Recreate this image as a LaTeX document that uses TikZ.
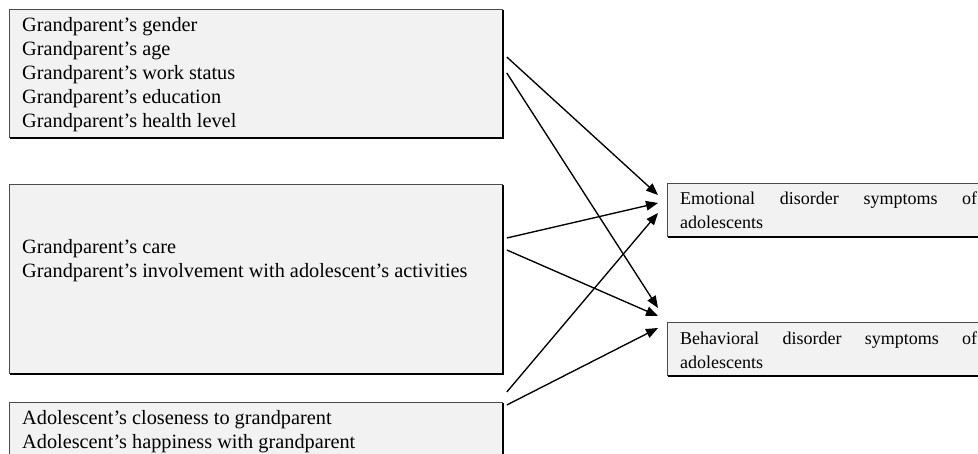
\documentclass[tikz,border=0pt]{standalone}
\usepackage{fontspec}
\setmainfont{Liberation Serif}
\usetikzlibrary{arrows.meta,calc}
\definecolor{boxfill}{HTML}{F2F2F2}
\tikzset{
  panel/.style={draw=black!70, line width=0.8pt, fill=boxfill, inner sep=0pt, anchor=north west},
  lefttext/.style={inner sep=0pt, anchor=west, align=left, font=\fontsize{20.3}{24}\selectfont},
  righttext/.style={inner sep=0pt, anchor=west, align=left, font=\fontsize{18}{24}\selectfont},
  shade/.style={line width=2.2pt, black},
  link/.style={line width=1.35pt, -{Triangle[length=12pt,width=9.5pt]}}
}
\begin{document}
\begin{tikzpicture}[x=1pt,y=-1pt]
\useasboundingbox (0,0) rectangle (978,453);
% left panels
\node[panel, minimum width=493pt, minimum height=128pt] (b1) at (9,9) {};
\node[panel, minimum width=493pt, minimum height=189pt] (b2) at (9,184) {};
\node[panel, minimum width=493pt, minimum height=70pt] (b3) at (9,402) {};
% right panels
\node[panel, minimum width=340pt, minimum height=53pt] (b4) at (667,183) {};
\node[panel, minimum width=340pt, minimum height=53pt] (b5) at (667,322) {};
% shadows
\foreach \b in {b1,b2,b3,b4,b5}{
  \draw[shade] ($(\b.south west)+(1,0)$) -- ($(\b.south east)+(0,0)$) -- ($(\b.north east)+(0,1)$);
}
% texts
\node[lefttext] (t1) at (22,75) {Grandparent’s gender\\Grandparent’s age\\Grandparent’s work status\\Grandparent’s education\\Grandparent’s health level};
\node[lefttext] (t2) at (22,261) {Grandparent’s care\\Grandparent’s involvement with adolescent’s activities};
\node[lefttext] (t3) at (22,432) {Adolescent’s closeness to grandparent\\Adolescent’s happiness with grandparent};
\node[righttext] (t4) at (680,210) {\hbox to 297pt{Emotional\hfill disorder\hfill symptoms\hfill of}\\adolescents};
\node[righttext] (t5) at (680,350) {\hbox to 297pt{Behavioral\hfill disorder\hfill symptoms\hfill of}\\adolescents};
% connectors
\draw[link] ($(b1.north east)+(4,48)$) -- ($(b4.north west)+(-9,12)$);
\draw[link] ($(b1.north east)+(4,64)$) -- ($(b5.north west)+(-9,-14)$);
\draw[link] ($(b2.north east)+(4,54)$) -- ($(b4.north west)+(-9,20)$);
\draw[link] ($(b2.north east)+(4,66)$) -- ($(b5.north west)+(-9,-6)$);
\draw[link] ($(b3.north east)+(4,-10)$) -- ($(b4.north west)+(-9,30)$);
\draw[link] ($(b3.north east)+(4,3)$) -- ($(b5.north west)+(-9,6)$);
\end{tikzpicture}
\end{document}
